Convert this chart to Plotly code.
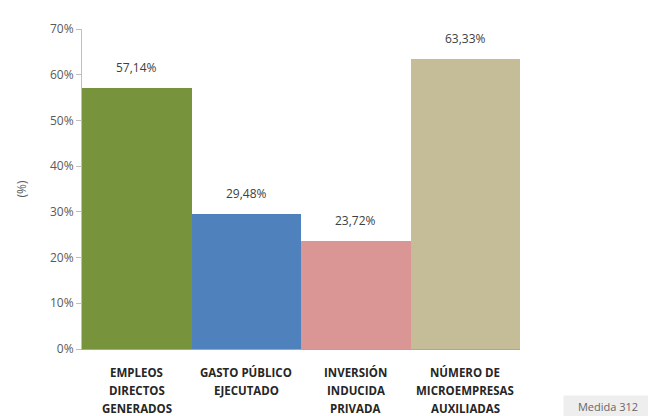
import plotly.graph_objects as go

categories = ["EMPLEOS<br>DIRECTOS<br>GENERADOS", "GASTO PÚBLICO<br>EJECUTADO",
              "INVERSIÓN<br>INDUCIDA<br>PRIVADA", "NÚMERO DE<br>MICROEMPRESAS<br>AUXILIADAS"]
values = [57.14, 29.48, 23.72, 63.33]
colors = ["#77933C", "#4F81BD", "#D99694", "#C4BD97"]
y_ticks = [0, 10, 20, 30, 40, 50, 60, 70]
y_ticktext = [f"{v}%" for v in y_ticks]

FONT = "Open Sans, Liberation Sans, sans-serif"
x_idx = list(range(len(categories)))

fig = go.Figure()
fig.add_trace(go.Bar(
    x=x_idx, y=values, marker=dict(color=colors, line=dict(width=0)),
    width=1.0, hoverinfo="skip",
))

# value labels above bars
for xi, v in zip(x_idx, values):
    fig.add_annotation(
        x=xi, y=v, text=f"{v:.2f}%".replace(".", ","), showarrow=False,
        yanchor="bottom", yshift=10, font=dict(family=FONT, size=12, color="#404040"),
    )

# category labels (one annotation per line for wider line spacing)
for xi, cat in zip(x_idx, categories):
    for i, line in enumerate(cat.split("<br>")):
        fig.add_annotation(
            x=xi, xref="x", y=0, yref="paper", text=f"<b>{line}</b>", showarrow=False,
            yanchor="middle", yshift=-(23 + 18 * i),
            font=dict(family=FONT, size=11.5, color="#262626"),
        )

fig.add_annotation(
    xref="paper", yref="paper", x=(599.5 - 74) / 438, y=(341 - 399) / 325,
    text="Medida 312", showarrow=False, xanchor="center", yanchor="middle",
    bgcolor="#EEEEEE", borderpad=3, width=82, height=14,
    font=dict(family=FONT, size=11, color="#666666"),
)

fig.update_layout(
    width=648, height=408,
    margin=dict(l=74, r=136, t=16, b=67),
    paper_bgcolor="white", plot_bgcolor="white",
    bargap=0, showlegend=False,
    font=dict(family=FONT, color="#404040"),
)
fig.update_xaxes(
    tickmode="array", tickvals=x_idx, ticktext=["" for _ in categories],
    range=[-0.5, 3.5], showline=True, linecolor="#A6A6A6", linewidth=1,
    ticks="", showgrid=False, zeroline=False,
)
fig.update_yaxes(
    range=[0, 70], tickmode="array", tickvals=y_ticks, ticktext=y_ticktext,
    showline=True, linecolor="#BFBFBF", linewidth=1, ticks="outside", ticklen=5,
    tickcolor="#BFBFBF", showgrid=False, zeroline=False,
    tickfont=dict(size=12, color="#595959"),
    title=dict(text="(%)", font=dict(size=12, color="#595959"), standoff=20),
)

fig.write_html("out.html")
